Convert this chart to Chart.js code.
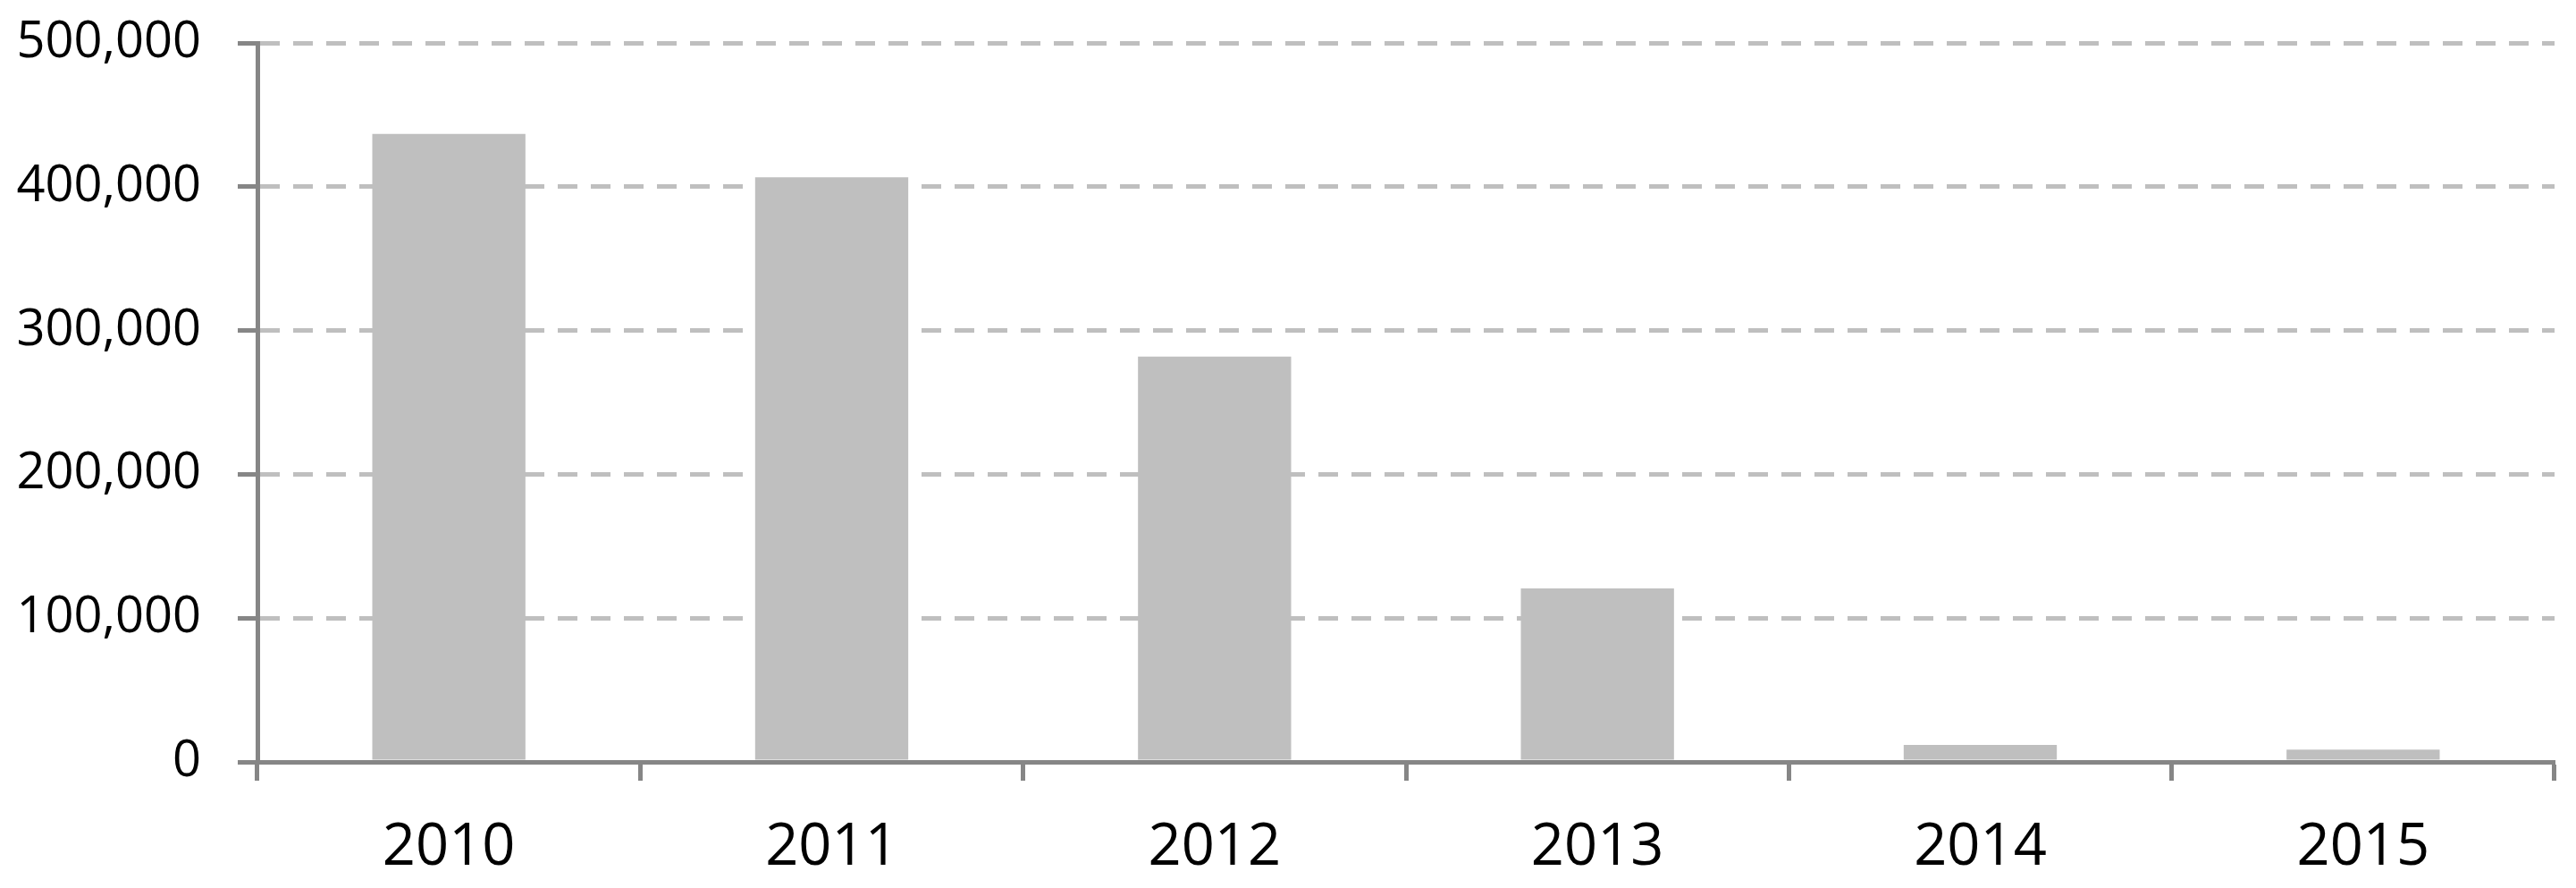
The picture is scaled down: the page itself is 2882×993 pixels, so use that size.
<!DOCTYPE html>
<html>
<head>
<meta charset="utf-8">
<script src="https://cdn.jsdelivr.net/npm/chart.js@4/dist/chart.umd.min.js"></script>
<style>
  html, body { margin: 0; padding: 0; background: #ffffff; }
  #wrap { width: 2882px; height: 993px; }
</style>
</head>
<body>
<div id="wrap"><canvas id="c" width="2882" height="993"></canvas></div>
<script>
// Data
const years = ['2010', '2011', '2012', '2013', '2014', '2015'];
const counts = [436700, 406600, 281800, 120700, 11800, 8500];
const yTickValues = [0, 100000, 200000, 300000, 400000, 500000];

const axisGray = '#868686';
const lightGray = '#bfbfbf';
const fontFamily = '"Open Sans", "Noto Sans", "Liberation Sans", sans-serif';

new Chart(document.getElementById('c'), {
  type: 'bar',
  data: {
    labels: years,
    datasets: [{
      data: counts,
      backgroundColor: lightGray,
      borderWidth: 0,
      categoryPercentage: 1.0,
      barPercentage: 0.4
    }]
  },
  options: {
    responsive: false,
    animation: false,
    devicePixelRatio: 1,
    layout: { padding: { left: 0, right: 24, top: 48, bottom: 0 } },
    plugins: { legend: { display: false }, tooltip: { enabled: false } },
    scales: {
      x: {
        offset: true,
        grid: {
          offset: true,
          drawOnChartArea: false,
          drawTicks: true,
          tickLength: 21,
          tickColor: axisGray,
          tickWidth: 5
        },
        border: { display: true, color: axisGray, width: 5, z: 1 },
        ticks: {
          color: '#000000',
          padding: 36,
          maxRotation: 0,
          font: { family: fontFamily, size: 65 }
        },
        afterFit: (s) => { s.height = 993 - 852; s.paddingLeft = 0; s.paddingRight = 0; }
      },
      y: {
        min: 0,
        max: 500000,
        afterBuildTicks: (s) => { s.ticks = yTickValues.map(v => ({ value: v })); },
        grid: {
          color: lightGray,
          lineWidth: 5,
          drawTicks: true,
          tickLength: 22,
          tickColor: axisGray,
          tickWidth: 5
        },
        border: { display: true, color: axisGray, width: 5, dash: [22, 15] },
        ticks: {
          color: '#000000',
          padding: 41,
          font: { family: fontFamily, size: 56 },
          callback: (v) => Number(v).toLocaleString('en-US')
        },
        afterFit: (s) => { s.width = 288; s.paddingTop = 0; s.paddingBottom = 0; }
      }
    }
  }
});
</script>
</body>
</html>
